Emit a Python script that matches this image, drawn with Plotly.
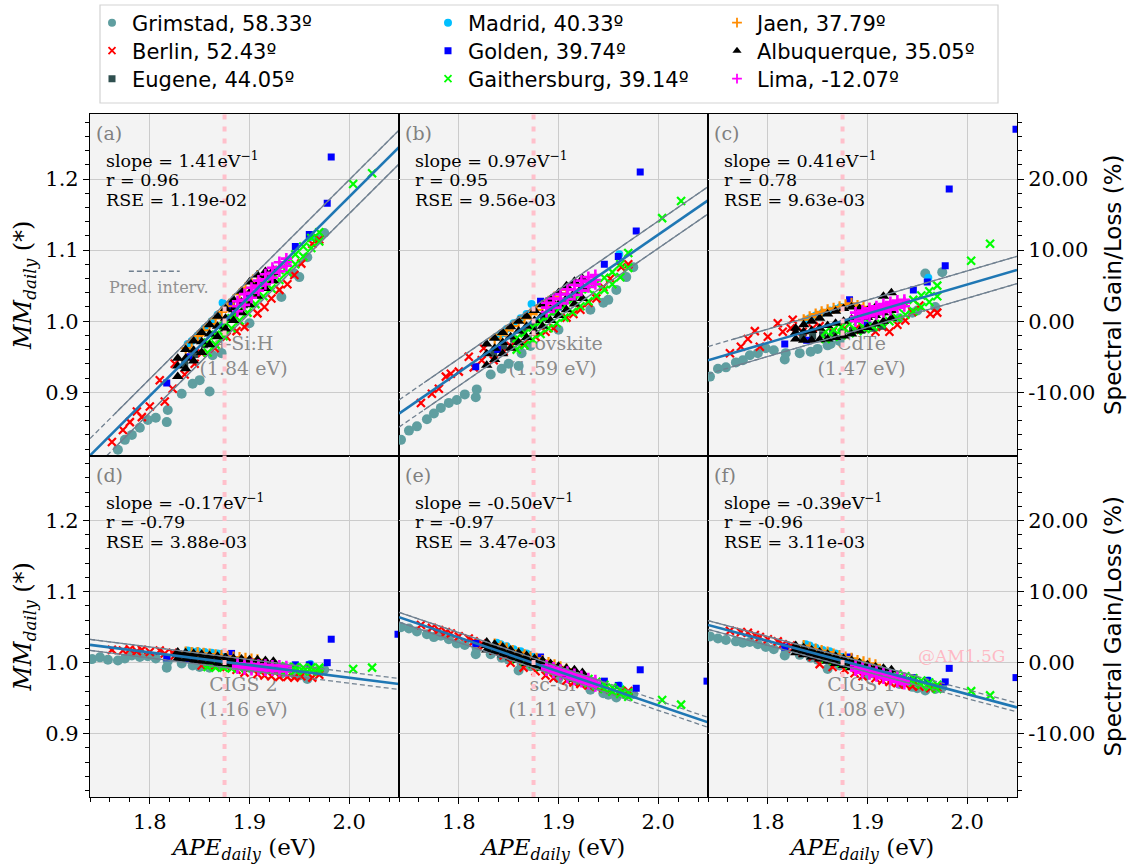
import plotly.graph_objects as go

# ------------------------------------------------------------------ data
APE_RANGE = [1.74, 2.05]
MM_RANGE = [0.811, 1.2915]
GAIN_RANGE = [-18.9, 29.15]
AM15G_APE = 1.875

panel_tags = ["(a)", "(b)", "(c)", "(d)", "(e)", "(f)"]
materials = ["a-Si:H", "Perovskite", "CdTe", "CIGS 2", "sc-Si", "CIGS 1"]
bandgaps = ["(1.84 eV)", "(1.59 eV)", "(1.47 eV)", "(1.16 eV)", "(1.11 eV)", "(1.08 eV)"]
slopes = ["1.41", "0.97", "0.41", "-0.17", "-0.50", "-0.39"]
r_values = ["0.96", "0.95", "0.78", "-0.79", "-0.97", "-0.96"]
rse_values = [1.19e-02, 9.56e-03, 9.63e-03, 3.88e-03, 3.47e-03, 3.11e-03]
fit_at_left = [0.811, 0.870, 0.945, 1.025, 1.064, 1.053]     # fitted MM at APE 1.74
fit_at_right = [1.245, 1.170, 1.072, 0.970, 0.916, 0.937]    # fitted MM at APE 2.05
gain_ticks = [-10, 0, 10, 20]
gain_tick_labels = ["-10.00", "0.00", "10.00", "20.00"]

location_names = ["Grimstad", "Berlin", "Eugene", "Madrid", "Golden",
                  "Gaithersburg", "Jaen", "Albuquerque", "Lima"]
location_latitudes = ["58.33", "52.43", "44.05", "40.33", "39.74",
                      "39.14", "37.79", "35.05", "-12.07"]

# Grimstad
grimstad_ape = [1.742, 1.750, 1.758, 1.768, 1.775, 1.782, 1.790, 1.798, 1.806, 1.817, 1.818, 1.832,
                1.843, 1.850, 1.860, 1.863, 1.872, 1.900, 1.932, 1.945, 1.950, 1.958, 1.968, 1.975]
grimstad_mm_a = [0.780, 0.790, 0.800, 0.819, 0.833, 0.840, 0.850, 0.861, 0.864, 0.858, 0.875, 0.898,
                 0.912, 0.917, 0.901, 0.952, 0.955, 0.997, 1.034, 1.067, 1.062, 1.090, 1.116, 1.124]
grimstad_mm_b = [0.833, 0.846, 0.852, 0.862, 0.870, 0.878, 0.885, 0.889, 0.897, 0.893, 0.904, 0.925,
                 0.933, 0.940, 0.937, 0.955, 0.965, 0.988, 1.016, 1.026, 1.030, 1.044, 1.062, 1.076]
grimstad_mm_c = [0.922, 0.933, 0.935, 0.942, 0.945, 0.952, 0.955, 0.962, 0.959, 0.946, 0.955, 0.955,
                 0.957, 0.961, 0.966, 0.968, 0.972, 0.995, 1.004, 1.012, 1.015, 1.067, 1.020, 1.069]
grimstad_mm_d = [1.005, 1.0075, 1.004, 1.003, 1.006, 1.010, 1.008, 1.009, 1.006, 0.993, 1.002, 0.999,
                 0.996, 0.994, 0.993, 0.997, 0.996, 0.993, 0.985, 0.984, 0.982, 0.977, 0.988, 0.990]
grimstad_mm_e = [1.050, 1.048, 1.044, 1.040, 1.036, 1.038, 1.033, 1.027, 1.025, 1.012, 1.020, 1.012,
                 1.007, 1.004, 0.989, 0.998, 0.995, 0.978, 0.962, 0.957, 0.955, 0.951, 0.955, 0.956]
grimstad_mm_f = [1.037, 1.034, 1.032, 1.030, 1.028, 1.029, 1.026, 1.022, 1.019, 1.010, 1.015, 1.011,
                 1.007, 1.004, 0.991, 0.998, 0.996, 0.983, 0.970, 0.966, 0.964, 0.961, 0.963, 0.965]

# Berlin
berlin_ape = [1.762, 1.773, 1.780, 1.787, 1.792, 1.800, 1.810, 1.815, 1.823, 1.825, 1.835, 1.845, 1.852,
              1.865, 1.877, 1.887, 1.895, 1.908, 1.915, 1.922, 1.930, 1.938, 1.945, 1.952, 1.963, 1.970]
berlin_mm_a = [0.830, 0.847, 0.858, 0.873, 0.865, 0.880, 0.917, 0.887, 0.905, 0.940, 0.925, 0.940, 0.955,
               0.962, 0.978, 0.986, 0.992, 1.011, 1.020, 1.032, 1.044, 1.052, 1.065, 1.081, 1.109, 1.115]
berlin_mm_b = [0.885, 0.898, 0.905, 0.922, 0.926, 0.929, 0.950, 0.935, 0.945, 0.962, 0.945, 0.958, 0.965,
               0.968, 0.978, 0.985, 0.990, 1.005, 1.010, 1.016, 1.026, 1.032, 1.048, 1.060, 1.076, 1.080]
berlin_mm_c = [0.955, 0.964, 0.975, 0.986, 0.964, 0.978, 0.997, 0.985, 0.990, 1.002, 0.985, 0.990, 0.993,
               0.985, 0.990, 0.988, 0.990, 0.985, 0.992, 0.985, 0.995, 1.001, 1.013, 1.022, 1.010, 1.012]
berlin_mm_d = [1.018, 1.017, 1.019, 1.016, 1.018, 1.015, 1.017, 1.013, 1.014, 1.010, 1.011, 1.008, 0.996,
               0.995, 0.994, 0.990, 0.986, 0.984, 0.982, 0.981, 0.980, 0.980, 0.979, 0.981, 0.979, 0.983]
berlin_mm_e = [1.053, 1.049, 1.046, 1.043, 1.041, 1.037, 1.034, 1.030, 1.027, 1.024, 1.017, 1.010, 1.000,
               0.993, 0.988, 0.982, 0.978, 0.975, 0.972, 0.970, 0.968, 0.966, 0.964, 0.962, 0.960, 0.960]
berlin_mm_f = [1.045, 1.043, 1.042, 1.039, 1.036, 1.033, 1.030, 1.026, 1.024, 1.020, 1.014, 1.008, 0.998,
               0.994, 0.990, 0.985, 0.981, 0.978, 0.975, 0.973, 0.971, 0.969, 0.967, 0.966, 0.964, 0.965]

# Eugene
eugene_ape = [1.835, 1.845, 1.855, 1.865, 1.875, 1.885, 1.895, 1.905, 1.915]
eugene_mm_a = [0.939, 0.953, 0.967, 0.981, 0.995, 1.009, 1.023, 1.037, 1.051]
eugene_mm_b = [0.955, 0.965, 0.975, 0.984, 0.994, 1.004, 1.013, 1.023, 1.033]
eugene_mm_c = [0.978, 0.979, 0.981, 0.983, 0.985, 0.987, 0.988, 0.990, 0.993]
eugene_mm_d = [1.006, 1.004, 1.003, 1.001, 1.000, 0.998, 0.996, 0.995, 0.993]
eugene_mm_e = [1.018, 1.013, 1.009, 1.004, 0.999, 0.994, 0.989, 0.985, 0.980]
eugene_mm_f = [1.016, 1.012, 1.008, 1.004, 1.001, 0.997, 0.994, 0.990, 0.986]

# Madrid
madrid_ape = [1.838, 1.842, 1.848, 1.855, 1.862, 1.868, 1.873, 1.961]
madrid_mm_a = [0.968, 0.972, 0.980, 0.990, 1.000, 1.009, 1.026, 1.118]
madrid_mm_b = [0.978, 0.982, 0.989, 0.997, 1.004, 1.010, 1.024, 1.094]
madrid_mm_c = [1.001, 1.004, 1.008, 1.012, 1.015, 1.017, 1.020, 1.061]
madrid_mm_d = [1.017, 1.016, 1.016, 1.015, 1.014, 1.013, 1.013, 0.998]
madrid_mm_e = [1.028, 1.026, 1.023, 1.019, 1.016, 1.013, 1.011, 0.968]
madrid_mm_f = [1.026, 1.024, 1.021, 1.018, 1.016, 1.013, 1.012, 0.975]

# Golden
golden_ape = [1.817, 1.839, 1.882, 1.900, 1.946, 1.960, 1.978, 1.982, 2.049]
golden_mm_a = [0.913, 0.950, 1.022, 1.035, 1.105, 1.122, 1.166, 1.231, 1.350]
golden_mm_b = [0.936, 0.960, 1.028, 1.020, 1.080, 1.091, 1.127, 1.210, 1.330]
golden_mm_c = [0.968, 0.973, 1.030, 0.994, 1.044, 1.055, 1.078, 1.186, 1.270]
golden_mm_d = [1.007, 1.005, 1.013, 1.002, 0.997, 0.997, 1.000, 1.033, 1.040]
golden_mm_e = [1.027, 1.018, 1.008, 0.992, 0.974, 0.968, 0.964, 0.990, 0.974]
golden_mm_f = [1.022, 1.014, 1.008, 0.995, 0.979, 0.975, 0.973, 0.992, 0.979]

# Gaithersburg (two edges of the band, then two far points)
gaith_ape = [1.858, 1.866, 1.874, 1.882, 1.890, 1.898, 1.906, 1.914, 1.922, 1.930, 1.938, 1.946, 1.954, 1.962, 1.970,
             1.858, 1.866, 1.874, 1.882, 1.890, 1.898, 1.906, 1.914, 1.922, 1.930, 1.938, 1.946, 1.954, 1.962, 1.970,
             2.004, 2.023]
gaith_mm_a = [0.970, 0.981, 0.993, 1.004, 1.015, 1.026, 1.038, 1.049, 1.060, 1.072, 1.083, 1.094, 1.105, 1.117, 1.125,
              0.956, 0.967, 0.979, 0.990, 1.001, 1.012, 1.024, 1.035, 1.046, 1.058, 1.069, 1.080, 1.091, 1.103, 1.112,
              1.193, 1.208]
gaith_mm_b = [0.976, 0.983, 0.991, 0.999, 1.007, 1.014, 1.022, 1.030, 1.038, 1.045, 1.053, 1.061, 1.069, 1.080, 1.096,
              0.960, 0.966, 0.974, 0.982, 0.990, 0.997, 1.005, 1.013, 1.021, 1.028, 1.036, 1.044, 1.052, 1.062, 1.075,
              1.145, 1.169]
gaith_mm_c = [0.985, 0.988, 0.992, 0.996, 1.000, 1.004, 1.008, 1.012, 1.016, 1.020, 1.025, 1.030, 1.036, 1.042, 1.050,
              0.975, 0.978, 0.980, 0.983, 0.986, 0.989, 0.992, 0.996, 1.000, 1.004, 1.009, 1.014, 1.020, 1.027, 1.035,
              1.085, 1.109]
gaith_mm_d = [0.999, 0.999, 0.998, 0.998, 0.997, 0.997, 0.996, 0.996, 0.995, 0.995, 0.994, 0.994, 0.993, 0.993, 0.993,
              0.994, 0.993, 0.993, 0.992, 0.992, 0.991, 0.991, 0.990, 0.990, 0.989, 0.989, 0.989, 0.988, 0.988, 0.988,
              0.991, 0.993]
gaith_mm_e = [1.011, 1.007, 1.004, 1.000, 0.996, 0.992, 0.988, 0.984, 0.981, 0.977, 0.973, 0.969, 0.965, 0.962, 0.958,
              1.005, 1.001, 0.998, 0.994, 0.990, 0.986, 0.982, 0.978, 0.975, 0.971, 0.967, 0.963, 0.959, 0.956, 0.952,
              0.9475, 0.941]
gaith_mm_f = [1.011, 1.008, 1.005, 1.002, 0.999, 0.996, 0.993, 0.990, 0.987, 0.984, 0.981, 0.978, 0.975, 0.972, 0.969,
              1.005, 1.002, 0.999, 0.996, 0.993, 0.990, 0.987, 0.984, 0.981, 0.978, 0.975, 0.972, 0.969, 0.966, 0.963,
              0.960, 0.954]

# Jaen
jaen_ape = [1.836, 1.842, 1.848, 1.854, 1.860, 1.866, 1.872, 1.878, 1.884, 1.890, 1.896, 1.902, 1.908]
jaen_mm_a = [0.962, 0.971, 0.979, 0.987, 0.996, 1.004, 1.013, 1.021, 1.030, 1.038, 1.047, 1.055, 1.064]
jaen_mm_b = [0.975, 0.981, 0.987, 0.993, 0.999, 1.004, 1.010, 1.016, 1.022, 1.028, 1.034, 1.039, 1.044]
jaen_mm_c = [1.002, 1.006, 1.010, 1.013, 1.016, 1.018, 1.020, 1.023, 1.025, 1.022, 1.020, 1.018, 1.016]
jaen_mm_d = [1.015, 1.014, 1.014, 1.013, 1.012, 1.011, 1.010, 1.009, 1.008, 1.007, 1.006, 1.005, 1.004]
jaen_mm_e = [1.026, 1.023, 1.020, 1.017, 1.014, 1.011, 1.008, 1.006, 1.003, 1.000, 0.997, 0.994, 0.991]
jaen_mm_f = [1.024, 1.021, 1.019, 1.017, 1.015, 1.012, 1.010, 1.008, 1.006, 1.003, 1.001, 0.999, 0.997]

# Albuquerque (lower edge, middle, upper edge of the dense cloud)
albq_row_ape = [1.828, 1.836, 1.844, 1.852, 1.860, 1.868, 1.876, 1.884, 1.892, 1.900, 1.908, 1.916, 1.924]
albq_ape = albq_row_ape + albq_row_ape + albq_row_ape
albq_mm_a = [0.922, 0.933, 0.944, 0.956, 0.967, 0.978, 0.989, 1.001, 1.012, 1.023, 1.035, 1.046, 1.057,
             0.937, 0.948, 0.959, 0.971, 0.982, 0.993, 1.004, 1.016, 1.027, 1.040, 1.052, 1.062, 1.068,
             0.948, 0.960, 0.972, 0.984, 0.995, 1.007, 1.018, 1.030, 1.042, 1.055, 1.065, 1.070, 1.072]
albq_mm_b = [0.938, 0.946, 0.954, 0.962, 0.970, 0.977, 0.985, 0.993, 1.001, 1.008, 1.016, 1.024, 1.032,
             0.954, 0.962, 0.970, 0.978, 0.986, 0.993, 1.001, 1.009, 1.017, 1.024, 1.032, 1.040, 1.048,
             0.968, 0.976, 0.984, 0.992, 1.000, 1.007, 1.015, 1.023, 1.031, 1.040, 1.050, 1.056, 1.060]
albq_mm_c = [0.975, 0.973, 0.973, 0.974, 0.975, 0.977, 0.979, 0.982, 0.986, 0.991, 0.996, 1.000, 1.004,
             0.984, 0.985, 0.987, 0.990, 0.994, 0.997, 1.000, 1.003, 1.006, 1.005, 1.008, 1.012, 1.015,
             0.990, 0.995, 1.000, 1.004, 1.010, 1.014, 1.018, 1.020, 1.018, 1.015, 1.020, 1.035, 1.040]
albq_mm_d = [1.006, 1.005, 1.003, 1.002, 1.001, 0.999, 0.998, 0.997, 0.995, 0.994, 0.993, 0.991, 0.990,
             1.011, 1.010, 1.008, 1.007, 1.006, 1.004, 1.003, 1.002, 1.000, 0.999, 0.998, 0.997, 0.996,
             1.015, 1.014, 1.013, 1.012, 1.010, 1.009, 1.008, 1.006, 1.005, 1.004, 1.004, 1.003, 1.002]
albq_mm_e = [1.018, 1.015, 1.011, 1.007, 1.003, 0.999, 0.996, 0.992, 0.988, 0.984, 0.981, 0.977, 0.973,
             1.024, 1.021, 1.017, 1.013, 1.009, 1.005, 1.001, 0.998, 0.994, 0.990, 0.986, 0.982, 0.979,
             1.029, 1.026, 1.022, 1.018, 1.014, 1.010, 1.006, 1.003, 0.999, 0.995, 0.992, 0.990, 0.986]
albq_mm_f = [1.014, 1.011, 1.008, 1.005, 1.002, 0.999, 0.996, 0.993, 0.990, 0.987, 0.984, 0.981, 0.978,
             1.019, 1.016, 1.013, 1.010, 1.007, 1.004, 1.001, 0.998, 0.995, 0.992, 0.989, 0.986, 0.983,
             1.024, 1.021, 1.018, 1.015, 1.012, 1.009, 1.006, 1.003, 1.000, 0.997, 0.994, 0.992, 0.990]

# Lima (lower edge, middle, upper edge of the cloud)
lima_row_ape = [1.888, 1.895, 1.902, 1.909, 1.916, 1.923, 1.930, 1.937]
lima_ape = lima_row_ape + lima_row_ape + lima_row_ape
lima_mm_a = [1.014, 1.023, 1.033, 1.043, 1.052, 1.061, 1.070, 1.078,
             1.021, 1.030, 1.040, 1.050, 1.059, 1.068, 1.076, 1.083,
             1.028, 1.038, 1.047, 1.057, 1.066, 1.075, 1.083, 1.088]
lima_mm_b = [1.013, 1.019, 1.025, 1.031, 1.037, 1.043, 1.048, 1.052,
             1.019, 1.025, 1.031, 1.038, 1.044, 1.050, 1.055, 1.058,
             1.026, 1.032, 1.038, 1.045, 1.051, 1.057, 1.062, 1.065]
lima_mm_c = [1.000, 1.004, 1.007, 1.010, 1.013, 1.016, 1.019, 1.021,
             1.006, 1.010, 1.013, 1.016, 1.019, 1.022, 1.024, 1.026,
             1.012, 1.015, 1.018, 1.021, 1.024, 1.027, 1.029, 1.030]
lima_mm_d = [0.992, 0.991, 0.990, 0.990, 0.989, 0.989, 0.988, 0.988,
             0.995, 0.995, 0.994, 0.993, 0.993, 0.992, 0.992, 0.991,
             0.999, 0.998, 0.998, 0.997, 0.997, 0.996, 0.996, 0.995]
lima_mm_e = [0.989, 0.986, 0.983, 0.979, 0.976, 0.973, 0.970, 0.967,
             0.992, 0.989, 0.986, 0.983, 0.980, 0.977, 0.974, 0.971,
             0.996, 0.993, 0.990, 0.987, 0.984, 0.981, 0.978, 0.975]
lima_mm_f = [0.989, 0.986, 0.984, 0.981, 0.978, 0.976, 0.973, 0.970,
             0.992, 0.990, 0.987, 0.985, 0.982, 0.979, 0.977, 0.974,
             0.996, 0.993, 0.991, 0.988, 0.986, 0.983, 0.981, 0.978]

location_data = {
    "Grimstad": (grimstad_ape, [grimstad_mm_a, grimstad_mm_b, grimstad_mm_c, grimstad_mm_d, grimstad_mm_e, grimstad_mm_f]),
    "Berlin": (berlin_ape, [berlin_mm_a, berlin_mm_b, berlin_mm_c, berlin_mm_d, berlin_mm_e, berlin_mm_f]),
    "Eugene": (eugene_ape, [eugene_mm_a, eugene_mm_b, eugene_mm_c, eugene_mm_d, eugene_mm_e, eugene_mm_f]),
    "Madrid": (madrid_ape, [madrid_mm_a, madrid_mm_b, madrid_mm_c, madrid_mm_d, madrid_mm_e, madrid_mm_f]),
    "Golden": (golden_ape, [golden_mm_a, golden_mm_b, golden_mm_c, golden_mm_d, golden_mm_e, golden_mm_f]),
    "Gaithersburg": (gaith_ape, [gaith_mm_a, gaith_mm_b, gaith_mm_c, gaith_mm_d, gaith_mm_e, gaith_mm_f]),
    "Jaen": (jaen_ape, [jaen_mm_a, jaen_mm_b, jaen_mm_c, jaen_mm_d, jaen_mm_e, jaen_mm_f]),
    "Albuquerque": (albq_ape, [albq_mm_a, albq_mm_b, albq_mm_c, albq_mm_d, albq_mm_e, albq_mm_f]),
    "Lima": (lima_ape, [lima_mm_a, lima_mm_b, lima_mm_c, lima_mm_d, lima_mm_e, lima_mm_f]),
}

# ------------------------------------------------------------------ styles
SERIF = "DejaVu Serif"
SANS = "DejaVu Sans"
GRID = "#cbcbcb"
BG = "#f3f3f3"
GRAYLINE = "#708090"
FITBLUE = "#1f77b4"

marker_styles = {
    "Grimstad": dict(symbol="circle", color="#5f9ea0", size=10, lw=0),
    "Berlin": dict(symbol="x-thin", color="#ff0000", size=8, lw=2.2),
    "Eugene": dict(symbol="square", color="#2f4f4f", size=7, lw=0),
    "Madrid": dict(symbol="circle", color="#00bfff", size=8, lw=0),
    "Golden": dict(symbol="square", color="#0000ff", size=7, lw=0),
    "Gaithersburg": dict(symbol="x-thin", color="#00ff00", size=8, lw=2.2),
    "Jaen": dict(symbol="cross-thin", color="#ff8c00", size=8, lw=2.2),
    "Albuquerque": dict(symbol="triangle-up", color="#000000", size=10, lw=0),
    "Lima": dict(symbol="cross-thin", color="#ff00ff", size=8, lw=2.6),
}
legend_marker_sizes = {"Grimstad": 8, "Berlin": 7, "Eugene": 7, "Madrid": 8, "Golden": 7,
                       "Gaithersburg": 7, "Jaen": 7, "Albuquerque": 8, "Lima": 7}

# pixel -> paper helpers (plot area spans x 90..1017, y 114..797)
def px_x(px):
    return (px - 90) / 927.0

def px_y(py):
    return (797 - py) / 683.0

PANEL_H = 341.5

fig = go.Figure()
col_domains = [[0.0, 1 / 3], [1 / 3, 2 / 3], [2 / 3, 1.0]]
row_domains = [[0.5, 1.0], [0.0, 0.5]]

layout = dict(width=1136, height=868, paper_bgcolor="white", plot_bgcolor=BG,
              margin=dict(l=90, r=119, t=114, b=71, autoexpand=False), showlegend=True)
annotations = []
shapes = []

for k in range(6):
    row, col = divmod(k, 3)
    xname = "x" if k == 0 else f"x{k+1}"
    yname = "y" if k == 0 else f"y{k+1}"

    # material label (below the data)
    fig.add_trace(go.Scatter(
        x=[1.894], y=[0.949], mode="text",
        text=[materials[k] + "<br>" + bandgaps[k]],
        textfont=dict(family=SERIF, size=19, color="rgba(125,125,125,0.9)"),
        textposition="middle center", showlegend=False, hoverinfo="skip",
        xaxis=xname, yaxis=yname))

    # data clouds
    for loc, lat in zip(location_names, location_latitudes):
        ape, mm_sets = location_data[loc]
        st = marker_styles[loc]
        marker = dict(symbol=st["symbol"], color=st["color"], size=st["size"],
                      line=dict(color=st["color"], width=st["lw"]))
        fig.add_trace(go.Scatter(
            x=ape, y=mm_sets[k], mode="markers", marker=marker,
            name=f"{loc}, {lat}º", legendgroup=loc,
            showlegend=False, xaxis=xname, yaxis=yname))

    # fit and prediction interval lines
    fl, fr = fit_at_left[k], fit_at_right[k]
    hw = 2 * rse_values[k]
    span = APE_RANGE[1] - APE_RANGE[0]
    for sgn in (1, -1):
        fig.add_trace(go.Scatter(
            x=APE_RANGE, y=[fl + sgn * hw, fr + sgn * hw], mode="lines",
            line=dict(color=GRAYLINE, width=1.3, dash="5px,3px"),
            showlegend=False, hoverinfo="skip", xaxis=xname, yaxis=yname))
    solid_x = [1.765, 2.05] if row == 0 else [1.74, 1.95]
    for sgn in (1, -1):
        ys = [fl + (fr - fl) * (xx - APE_RANGE[0]) / span + sgn * hw for xx in solid_x]
        fig.add_trace(go.Scatter(
            x=solid_x, y=ys, mode="lines",
            line=dict(color=GRAYLINE, width=1.3),
            showlegend=False, hoverinfo="skip", xaxis=xname, yaxis=yname))
    fig.add_trace(go.Scatter(
        x=APE_RANGE, y=[fl, fr], mode="lines",
        line=dict(color=FITBLUE, width=2.6),
        showlegend=False, hoverinfo="skip", xaxis=xname, yaxis=yname))

    # AM1.5G reference line
    shapes.append(dict(type="line", xref=xname, yref=f"{yname} domain",
                       x0=AM15G_APE, x1=AM15G_APE, y0=0, y1=1, layer="above",
                       line=dict(color="#ffc0cb", width=4, dash="5px,7px")))

    # axes
    xax = dict(domain=col_domains[col], range=APE_RANGE, anchor=yname,
               showgrid=True, gridcolor=GRID, gridwidth=1.3,
               showline=True, linecolor="black", linewidth=1.2, mirror=True,
               zeroline=False, tickmode="linear", tick0=1.8, dtick=0.1,
               tickformat=".1f", tickfont=dict(family=SERIF, size=21, color="black"))
    if row == 1:
        xax.update(ticks="outside", ticklen=6, tickwidth=1.2, tickcolor="black",
                   showticklabels=True,
                   minor=dict(tickmode="linear", tick0=1.8, dtick=0.02, ticks="outside",
                              ticklen=3.5, tickwidth=1, tickcolor="black", showgrid=False),
                   title=dict(text="<i>APE</i><sub><i>daily</i></sub> (eV)",
                              font=dict(family=SERIF, size=23, color="black"), standoff=2))
    else:
        xax.update(ticks="", showticklabels=False)
    yax = dict(domain=row_domains[row], range=MM_RANGE, anchor=xname,
               showgrid=True, gridcolor=GRID, gridwidth=1.3,
               showline=True, linecolor="black", linewidth=1.2, mirror=True,
               zeroline=False, tickmode="linear", tick0=0.9, dtick=0.1,
               tickformat=".1f", tickfont=dict(family=SERIF, size=21, color="black"))
    if col == 0:
        yax.update(ticks="outside", ticklen=6, tickwidth=1.2, tickcolor="black",
                   showticklabels=True,
                   minor=dict(tickmode="linear", tick0=0.9, dtick=0.02, ticks="outside",
                              ticklen=3.5, tickwidth=1, tickcolor="black", showgrid=False),
                   title=dict(text="<i>MM</i><sub><i>daily</i></sub> (*)",
                              font=dict(family=SERIF, size=24, color="black"), standoff=6))
    else:
        yax.update(ticks="", showticklabels=False)
    layout["xaxis" if k == 0 else f"xaxis{k+1}"] = xax
    layout["yaxis" if k == 0 else f"yaxis{k+1}"] = yax

    # panel tag and statistics (one annotation per line)
    annotations.append(dict(xref=f"{xname} domain", yref=f"{yname} domain", x=0.012,
                            y=1 - 19 / PANEL_H, xanchor="left", yanchor="middle", showarrow=False,
                            text=panel_tags[k], font=dict(family=SERIF, size=19, color="#808080")))
    stat_lines = [f"slope = {slopes[k]}eV<sup>−1</sup>", f"r = {r_values[k]}",
                  f"RSE = {rse_values[k]:.2e}"]
    for j, line_text in enumerate(stat_lines):
        annotations.append(dict(xref=f"{xname} domain", yref=f"{yname} domain", x=0.045,
                                y=1 - (46 + 20 * j) / PANEL_H, xanchor="left", yanchor="middle",
                                showarrow=False, text=line_text,
                                font=dict(family=SERIF, size=17.5, color="black")))

# right-hand gain/loss axes for panels (c) and (f)
for k_host, yname_new in ((2, "yaxis7"), (5, "yaxis8")):
    host_y = f"y{k_host+1}"
    host_x = f"x{k_host+1}"
    layout[yname_new] = dict(overlaying=host_y, side="right", anchor=host_x, range=GAIN_RANGE,
                             tickmode="array", tickvals=gain_ticks, ticktext=gain_tick_labels,
                             ticks="outside", ticklen=6, tickwidth=1.2, tickcolor="black",
                             minor=dict(tickmode="linear", tick0=0, dtick=2, ticks="outside",
                                        ticklen=3.5, tickwidth=1, tickcolor="black", showgrid=False),
                             showgrid=False, zeroline=False, showline=False,
                             tickfont=dict(family=SERIF, size=21, color="black"),
                             title=dict(text="Spectral Gain/Loss (%)",
                                        font=dict(family=SANS, size=23, color="black"), standoff=10))
    fig.add_trace(go.Scatter(x=[1.8], y=[0], mode="markers", opacity=0, showlegend=False,
                             hoverinfo="skip", xaxis=host_x, yaxis="y" + yname_new[5:]))

# legend entries: one small legend per entry, laid out in 3 columns x 3 rows
legend_col_px = [112, 448, 737]
legend_row_px = [23, 51, 79]
LEGEND_FONT = 21
for i, (loc, lat) in enumerate(zip(location_names, location_latitudes)):
    lname = "legend" if i == 0 else f"legend{i+1}"
    c, r = divmod(i, 3)
    st = marker_styles[loc]
    fig.add_trace(go.Scatter(
        x=[None], y=[None], mode="markers", name=f"{loc}, {lat}º", legendgroup=loc,
        legend=lname, showlegend=True,
        marker=dict(symbol=st["symbol"], color=st["color"], size=legend_marker_sizes[loc],
                    line=dict(color=st["color"], width=min(st["lw"], 1.8)))))
    layout[lname] = dict(x=px_x(legend_col_px[c] - 20), y=px_y(legend_row_px[r]),
                         xanchor="left", yanchor="middle", orientation="v",
                         font=dict(family=SANS, size=LEGEND_FONT, color="black"),
                         bgcolor="rgba(0,0,0,0)", borderwidth=0, tracegroupgap=0)

# "Pred. interv." key in panel (a)
shapes.append(dict(type="line", xref="x", yref="y", x0=1.779, x1=1.830, y0=1.0703, y1=1.0703,
                   line=dict(color=GRAYLINE, width=1.5, dash="5px,3px"), layer="above"))
annotations.append(dict(xref="x", yref="y", x=1.809, y=1.0478, showarrow=False, text="Pred. interv.",
                        font=dict(family=SERIF, size=16, color="#909090")))
# AM1.5G note in panel (f)
annotations.append(dict(xref="x6", yref="y6", x=1.994, y=1.010, showarrow=False, text="@AM1.5G",
                        font=dict(family=SERIF, size=17, color="rgba(255,182,193,0.95)")))

# legend frame
shapes.append(dict(type="rect", xref="paper", yref="paper", x0=px_x(100), x1=px_x(998),
                   y0=px_y(103), y1=px_y(5), line=dict(color="#d3d3d3", width=1.2),
                   fillcolor="rgba(255,255,255,0.85)", layer="above"))

layout["annotations"] = annotations
layout["shapes"] = shapes
fig.update_layout(**layout)

fig.write_html("out.html")
